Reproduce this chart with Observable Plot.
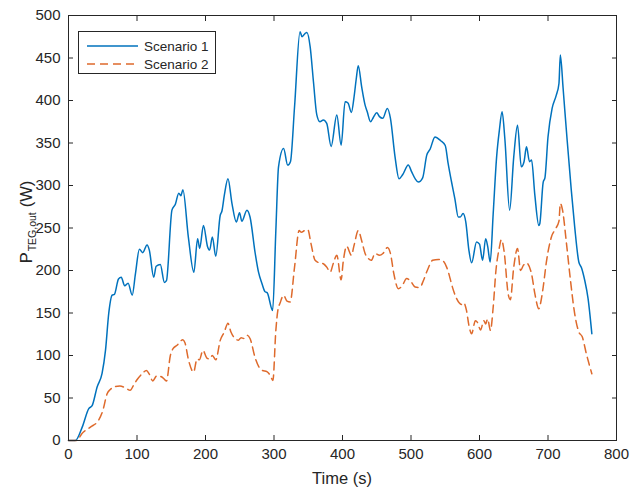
<!DOCTYPE html>
<html><head><meta charset="utf-8">
<script src="https://cdn.jsdelivr.net/npm/d3@7"></script>
<script src="https://cdn.jsdelivr.net/npm/@observablehq/plot@0.6"></script>
<style>
body{margin:0;background:#fff;}
#wrap{position:relative;width:630px;height:490px;font-family:"Liberation Sans",Arial,sans-serif;color:#262626;}
#legend{position:absolute;left:78px;top:31px;width:136px;height:41px;border:1px solid #262626;background:#fff;font-size:13.5px;}
.row{position:absolute;left:0;height:18px;display:flex;align-items:center;}
.row svg{margin-left:8px;margin-right:6px;}
</style></head><body><div id="wrap"><div id="legend"></div></div>
<script>
const seriesNames = ["Scenario 1", "Scenario 2"];
const seriesColors = ["#0072BD", "#DE6A2C"];
const xTicks = [0,100,200,300,400,500,600,700,800];
const yTicks = [0,50,100,150,200,250,300,350,400,450,500];

const scenario1Time = [0,10,20,29.6,34.5,41.8,49,54,58.8,63.7,67,73,77,82,87,93,97.7,103.5,108.3,114.7,118,124.4,128,134,140,143,151,156,161,164,167,175,183,188.5,191.5,197,203,206,210,215,221.5,224,227.5,232.8,238.6,245,249.7,253,260.5,265,272.6,277.4,282.4,287,290,298,302.7,306.6,314,320,324,330,338,341,345.5,348,352.8,357.6,362.5,367,372,377,383.4,391.7,398,403.8,408,413,417,420,423,428,433,436,441,445,450,454,458.7,465.5,470,476.7,482.5,488,496,501,506,510.7,517,523,528,535,543,550,554,559,564,569,572,576,580,584.5,588.5,595.7,600,604.5,609,612,615.6,620,625,629,633,637,644,650,655.5,661,665,668.6,673,676,680.8,686.6,688,693,695.5,700,706,712,716,718,722,724.5,728,734,739,745,749,753.6,758.5,764];
const scenario1Power = [0,0,15.7,37.5,41,63,79,106,150,171,172,190,192,182,185,171,196,225,221,230,224,192,205,207,186,188,271,278,291,288,295,239,198,237.5,226,253,228,224,239.5,216.7,265,270,288.6,308,279,257,268,258,271,263,220,198,184.6,175,174,153,247,322,343.6,324,328,392.6,481,475,479,480,463,422,383,375,377,373,346,383,347.5,398.5,397,386,405,425,441,416,394.6,387,375,380,385.5,381,379,390.7,379,333.7,308,313,324,316,308,304,309,335.7,343,357,353,347,327,305,284.6,263,263,267,257,224,209,233.6,231,212,237.5,228,210,267,333.7,365,386.7,355,271,333.7,371,322,328,345.5,328,330,288.6,253,255,304,309,357,390.7,406,420,453.5,415,388.7,353,294.5,251,210,203,188.5,167,125.7];

const scenario2Time = [0,12,20,32,44,50,56.4,61,68.5,75,83,90,95,100,107.4,113.7,118,123,128.8,135.6,140,143,148.7,152.6,158.4,167,170,175.4,182.7,187.6,191,196.3,202,206,210,215,221.5,227.4,232.8,237,243.4,248,252,256,261,265,272.6,278.4,283,289.6,294.5,298.4,302.7,305.6,309,314,319,323.6,330,336.7,340,344.5,349.4,354,360,366,372,377,382,386.4,391.7,398,401,406,413,417,423,428,433,437.8,442,447.5,454,459,465.5,470,475,481.5,487,493.7,499,506,513,518,523.8,531.6,540,547,552,556,559,566.6,574,577,581,584.5,588.5,594,597,601.5,606.4,609,611.8,616,620,624,628.7,632,636,641.8,645,650,655.5,660,664,668.6,676,680.8,686.6,690,693,698,705,711,716,718,721,727,732.8,739,745,750,756,764];
const scenario2Power = [0,0,8.6,15.7,24,35,55,60,63.6,64,62,59,65,71.5,78.5,82.5,78,70,76,75,72,70,100,108,112,118.6,115,94,80.5,96,95,106,97,96,100,95,117.8,127.6,138,128,119.8,118,121,120,123.7,120,97,86,82.5,81,76.5,70.7,129.6,153,162,170.8,164,163,204,247,245,247,248,231.6,212,209,208,204,198,208,218,189,210,228.5,218,230,247,235,220,214,212,220,218,220,227,220,196,178.6,182,190.5,188,180.6,180,188,200,212,213,211,204,194,184.6,167,160,162,153,135.5,125.6,141,139,130,141,137,143,129.6,157,200,225.8,236.4,222,172.8,165.7,204,225.8,200,206,208.8,196,172.8,155,165,180.6,212,239.5,249,258,278.8,272,231.6,188.5,149,127.6,122,102,78.5];

const s1 = scenario1Time.map((t,i)=>({t, p: scenario1Power[i]}));
const s2 = scenario2Time.map((t,i)=>({t, p: scenario2Power[i]}));

const axisColor = "#262626";
const dash = "8,5";
const chart = Plot.plot({
  width: 630, height: 490,
  marginLeft: 68, marginRight: 14, marginTop: 15, marginBottom: 50,
  style: {fontFamily: "'Liberation Sans', Arial, sans-serif", fontSize: "15px", color: axisColor, background: "#fff", overflow: "visible"},
  x: {domain: [0, 800]},
  y: {domain: [0, 500]},
  marks: [
    Plot.line(s1, {x: "t", y: "p", stroke: seriesColors[0], strokeWidth: 1.5, curve: "monotone-x"}),
    Plot.line(s2, {x: "t", y: "p", stroke: seriesColors[1], strokeWidth: 1.5, strokeDasharray: dash, curve: "monotone-x"}),
    Plot.frame({stroke: axisColor, strokeWidth: 1}),
    Plot.axisX(xTicks, {anchor: "bottom", tickSize: -5, tickPadding: 13, label: null, stroke: axisColor, fill: axisColor}),
    Plot.axisX(xTicks, {anchor: "top", tickSize: -5, tickFormat: () => "", label: null, stroke: axisColor}),
    Plot.axisY(yTicks, {anchor: "left", tickSize: -5, tickPadding: 13, label: null, stroke: axisColor, fill: axisColor}),
    Plot.axisY(yTicks, {anchor: "right", tickSize: -5, tickFormat: () => "", label: null, stroke: axisColor})
  ]
});
document.getElementById("wrap").prepend(chart);

const svg = d3.select(chart);
svg.append("text")
  .attr("x", 342).attr("y", 484)
  .attr("text-anchor", "middle")
  .attr("font-size", 16.5).attr("fill", axisColor)
  .text("Time (s)");
const yl = svg.append("text")
  .attr("transform", "translate(32,222) rotate(-90)")
  .attr("text-anchor", "middle")
  .attr("font-size", 16.5).attr("fill", axisColor);
yl.append("tspan").text("P");
yl.append("tspan").attr("font-size", 10.5).attr("dy", 4).attr("dx", 1).text("TEG,out");
yl.append("tspan").attr("dy", -4).attr("dx", 5).text("(W)");

const legend = d3.select("#legend");
seriesNames.forEach((name, i) => {
  const row = legend.append("div").attr("class", "row").style("top", (5 + i * 18) + "px");
  const sw = row.append("svg").attr("width", 51).attr("height", 10);
  sw.append("line").attr("x1", 0).attr("x2", 51).attr("y1", 5).attr("y2", 5)
    .attr("stroke", seriesColors[i]).attr("stroke-width", 1.5)
    .attr("stroke-dasharray", i === 1 ? dash : null);
  row.append("span").text(name);
});
</script></body></html>
